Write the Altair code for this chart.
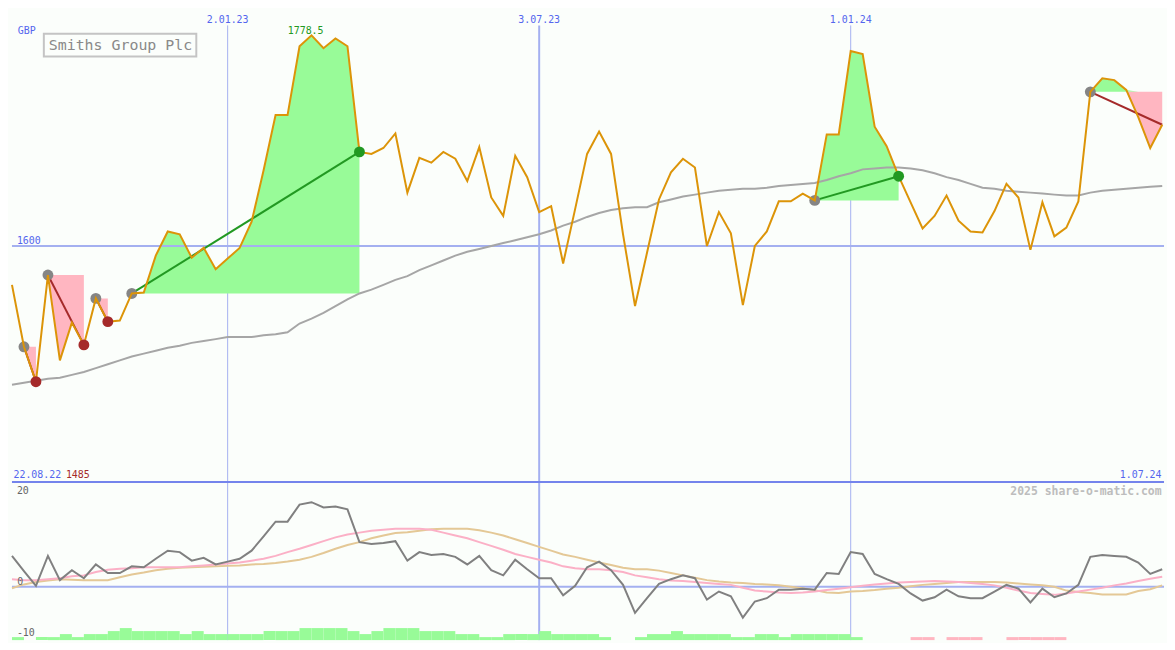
import altair as alt
import pandas as pd

# ---------------- data (weekly points, first point = 29.08.22) ----------------
START = "2022-08-29"

price = [1567.1, 1514.6, 1485.0, 1575.4, 1503.1, 1535.1, 1516.2, 1555.6, 1535.9, 1536.8,
         1559.8, 1560.6, 1591.8, 1612.3, 1609.9, 1590.1, 1598.4, 1580.3, 1589.3, 1598.4,
         1620.5, 1664.1, 1710.9, 1710.9, 1769.2, 1778.5, 1767.6, 1775.8, 1769.2, 1679.7,
         1678.0, 1683.0, 1695.3, 1645.2, 1674.7, 1670.6, 1679.7, 1673.9, 1655.0, 1683.8,
         1641.1, 1625.5, 1676.4, 1658.3, 1628.7, 1633.7, 1585.2, 1631.2, 1678.0, 1696.9,
         1678.0, 1609.9, 1549.1, 1594.2, 1639.4, 1662.4, 1673.9, 1666.5, 1600.0, 1628.7,
         1610.7, 1549.9, 1600.0, 1612.3, 1637.8, 1637.8, 1644.4, 1638.6, 1694.5, 1694.5,
         1765.1, 1762.6, 1701.0, 1684.6, 1659.1, 1637.0, 1614.8, 1625.5, 1642.7, 1621.4,
         1612.3, 1611.5, 1629.6, 1652.6, 1641.1, 1596.7, 1637.0, 1608.2, 1615.6, 1637.8,
         1730.6, 1742.1, 1740.5, 1732.2, 1709.2, 1683.0, 1702.7]

ma = [1482.5, 1484.2, 1485.8, 1487.5, 1488.3, 1490.8, 1493.2, 1496.5, 1499.8, 1503.1,
      1506.4, 1508.8, 1511.3, 1513.8, 1515.4, 1517.9, 1519.5, 1521.1, 1522.8, 1522.8,
      1522.8, 1524.4, 1525.3, 1526.9, 1534.3, 1538.4, 1543.3, 1549.1, 1554.8, 1559.8,
      1563.0, 1567.1, 1571.3, 1574.5, 1579.5, 1583.6, 1587.7, 1591.8, 1595.1, 1597.5,
      1600.0, 1602.5, 1604.9, 1607.4, 1609.9, 1613.1, 1617.2, 1620.5, 1624.6, 1627.9,
      1630.4, 1632.0, 1632.9, 1632.9, 1637.0, 1639.4, 1641.9, 1643.5, 1645.2, 1646.8,
      1647.6, 1648.5, 1648.5, 1649.3, 1650.9, 1651.7, 1652.6, 1653.4, 1655.9, 1659.1,
      1661.6, 1664.9, 1665.7, 1666.5, 1666.5, 1665.7, 1664.1, 1661.6, 1658.3, 1655.9,
      1652.6, 1649.3, 1648.5, 1646.8, 1646.0, 1645.2, 1644.4, 1643.5, 1642.7, 1642.7,
      1645.2, 1646.8, 1647.6, 1648.5, 1649.3, 1650.1, 1650.9]

osc = [6.5, 3.3, 0.2, 6.5, 1.4, 3.5, 1.8, 4.7, 2.9, 2.9,
       4.3, 4.1, 5.9, 7.6, 7.3, 5.5, 6.1, 4.7, 5.3, 5.9,
       7.6, 10.6, 13.7, 13.7, 17.3, 17.8, 16.7, 16.9, 16.3, 9.4,
       9.0, 9.2, 9.6, 5.5, 7.3, 6.7, 6.9, 6.3, 4.7, 6.5,
       3.5, 2.4, 5.7, 3.7, 1.8, 1.8, -1.8, 0.2, 4.1, 5.3,
       3.5, 0.4, -5.5, -2.4, 0.6, 1.6, 2.4, 1.8, -2.7, -1.0,
       -2.0, -6.5, -3.1, -2.4, -0.6, -0.6, -0.4, -0.6, 2.9, 2.7,
       7.3, 6.9, 2.7, 1.6, 0.6, -1.4, -2.9, -2.2, -0.6, -2.0,
       -2.4, -2.4, -1.0, 0.4, -0.4, -3.3, -0.4, -2.2, -1.4, 0.4,
       6.3, 6.7, 6.5, 6.3, 5.1, 2.7, 3.7]

osc_fast = [1.6, 1.4, 1.4, 1.6, 1.8, 2.2, 2.4, 3.1, 3.6, 3.8,
            3.9, 4.1, 4.1, 4.1, 4.1, 4.3, 4.5, 4.7, 4.9, 5.1,
            5.5, 5.9, 6.5, 7.3, 8.0, 8.8, 9.6, 10.4, 11.0, 11.4,
            11.8, 12.0, 12.2, 12.2, 12.2, 12.0, 11.4, 10.8, 10.2, 9.4,
            8.6, 7.8, 6.9, 6.3, 5.7, 5.1, 4.3, 3.9, 3.7, 3.7,
            3.5, 3.1, 2.4, 2.0, 1.6, 1.3, 1.2, 1.0, 0.8, 0.6,
            0.4, -0.2, -0.8, -1.0, -1.2, -1.3, -1.2, -1.0, -0.7, -0.4,
            -0.1, 0.2, 0.5, 0.7, 0.9, 1.0, 1.1, 1.2, 1.1, 1.0,
            0.8, 0.6, 0.3, -0.2, -0.8, -1.3, -1.5, -1.7, -1.4, -1.0,
            -0.6, -0.2, 0.3, 0.7, 1.2, 1.7, 2.1]

osc_slow = [-0.3, 0.5, 1.0, 1.3, 1.6, 1.5, 1.4, 1.4, 1.4, 2.0,
            2.6, 3.0, 3.5, 3.8, 4.0, 4.1, 4.2, 4.3, 4.4, 4.5,
            4.7, 4.8, 5.0, 5.3, 5.7, 6.3, 7.1, 8.0, 8.8, 9.4,
            10.2, 10.8, 11.3, 11.5, 11.8, 12.1, 12.2, 12.2, 12.2, 11.9,
            11.4, 10.8, 10.0, 9.2, 8.4, 7.6, 6.8, 6.3, 5.7, 5.1,
            4.6, 4.0, 3.7, 3.7, 3.4, 2.9, 2.4, 1.9, 1.4, 1.1,
            0.9, 0.8, 0.6, 0.5, 0.3, 0.0, -0.3, -0.7, -1.2, -1.3,
            -1.0, -0.9, -0.7, -0.4, -0.2, 0.1, 0.4, 0.6, 0.8, 1.0,
            1.0, 1.0, 1.0, 0.9, 0.7, 0.5, 0.3, 0.0, -0.8, -1.1,
            -1.3, -1.6, -1.6, -1.6, -0.9, -0.5, 0.3]

# weekly signal strength bars (positive = green, negative = pink)
strength = [1, 0, 1, 1, 2, 1, 2, 2, 3, 4, 3, 3, 3, 3, 2, 3, 2, 2, 2, 2,
            2, 3, 3, 3, 4, 4, 4, 4, 3, 2, 3, 4, 4, 4, 3, 3, 3, 2, 2, 1,
            1, 2, 2, 2, 3, 2, 2, 2, 2, 1, 0, 0, 1, 2, 2, 3, 2, 2, 2, 2,
            1, 1, 2, 2, 1, 2, 2, 2, 2, 2, 1, 0, 0, 0, 0, -1, -1, 0, -1, -1,
            -1, 0, 0, -1, -1, -1, -1, -1, 0, 0, 0, 0, 0, 0, 0, 0]

# trade signals: (start point, end point, kind, still open)
seg_start = [1, 3, 7, 10, 67, 90]
seg_end = [2, 6, 8, 29, 74, 96]
seg_kind = ["sell", "sell", "sell", "buy", "buy", "sell"]
seg_open = [False, False, False, False, False, True]

tick_dates = ["2023-01-02", "2023-07-03", "2024-01-01"]
tick_labels = ["2.01.23", "3.07.23", "1.01.24"]
tick_kind = ["thin", "thick", "thin"]
price_levels = [1600]
price_level_labels = ["1600"]
osc_levels = [0]
osc_labels_top, osc_labels_zero, osc_labels_bottom = "20", "0", "-10"
first_label, last_label = "22.08.22", "1.07.24"
currency = "GBP"
title = "Smiths Group Plc"
credit = "2025 share-o-matic.com"

# ---------------- layout / style ----------------
W, H1, H2 = 1159, 475, 159
SX = W / 1175.0
SY = (H1 + H2) / 650.0
FONT = "DejaVu Sans Mono"
BG = "#fbfefb"
BLUE_TXT = "#5466ee"
GRID = "#a4b0f0"
SEP = "#7484ec"
ORANGE = "#dc9408"
GREEN_FILL = "#98fb98"
PINK_FILL = "#ffb6c1"
BUY = "#229922"
SELL = "#a52a2a"

XS = alt.Scale(domain=[0, 96.15], nice=False, zero=False)
YT = alt.Scale(domain=[1400, 1800], nice=False, zero=False)
YB = alt.Scale(domain=[-11.22, 22.04], nice=False, zero=False)
YH = alt.Scale(domain=[0, 52.6], nice=False, zero=False)


def X(f):
    return alt.X(f, type="quantitative", scale=XS, axis=None)


def week_of(d):
    return (pd.Timestamp(d) - pd.Timestamp(START)).days / 7.0


n = len(price)
df = pd.DataFrame({"week": list(range(n)), "price": price, "ma": ma,
                   "osc": osc, "fast": osc_fast, "slow": osc_slow})

area_rows, trend_rows, start_rows, end_rows = [], [], [], []
for sid, (s, e, k, op) in enumerate(zip(seg_start, seg_end, seg_kind, seg_open)):
    b = price[s]
    for i in range(s, e + 1):
        area_rows.append({"seg": sid, "week": i, "base": b,
                          "upper": max(price[i], b), "lower": min(price[i], b)})
    trend_rows += [{"seg": sid, "kind": k, "week": s, "price": price[s]},
                   {"seg": sid, "kind": k, "week": e, "price": price[e]}]
    start_rows.append({"week": s, "price": price[s]})
    if not op:
        end_rows.append({"week": e, "price": price[e], "kind": k})
area_df = pd.DataFrame(area_rows)
trend_df = pd.DataFrame(trend_rows)
start_df = pd.DataFrame(start_rows)
end_df = pd.DataFrame(end_rows)

ticks_df = pd.DataFrame({"week": [week_of(d) for d in tick_dates],
                         "label": tick_labels, "kind": tick_kind})
bar_df = pd.DataFrame({"x0": list(range(len(strength))),
                       "x1": [k + 1 for k in range(len(strength))],
                       "h": [abs(v) for v in strength],
                       "sgn": [v for v in strength]})
bar_up = bar_df[bar_df["sgn"] > 0]
bar_dn = bar_df[bar_df["sgn"] < 0]

imax = price.index(max(price))
imin = price.index(min(price))
peak_df = pd.DataFrame({"week": [imax], "price": [max(price)], "label": [f"{max(price):g}"]})
one = pd.DataFrame({"a": [0]})

sw = alt.StrokeWidth("kind:N", scale=alt.Scale(domain=["thin", "thick"], range=[1, 2]), legend=None)
kind_color = alt.Color("kind:N", scale=alt.Scale(domain=["buy", "sell"], range=[BUY, SELL]), legend=None)

# ---------------- top panel ----------------
vrules_top = alt.Chart(ticks_df).mark_rule(color=GRID).encode(
    x=X("week"), y=alt.value(16 * SY), y2=alt.value(H1), strokeWidth=sw)

green_area = alt.Chart(area_df).mark_area(color=GREEN_FILL, opacity=1).encode(
    x=X("week"), y=alt.Y("upper:Q", scale=YT, axis=None), y2="base:Q", detail="seg:N")
pink_area = alt.Chart(area_df).mark_area(color=PINK_FILL, opacity=1).encode(
    x=X("week"), y=alt.Y("lower:Q", scale=YT, axis=None), y2="base:Q", detail="seg:N")

hrule_top = alt.Chart(pd.DataFrame({"p": price_levels, "label": price_level_labels})).mark_rule(
    color=GRID, strokeWidth=2).encode(y=alt.Y("p:Q", scale=YT, axis=None))
hrule_lbl = alt.Chart(pd.DataFrame({"p": price_levels, "label": price_level_labels})).mark_text(
    font=FONT, fontSize=10, color=BLUE_TXT, align="left", baseline="alphabetic", dy=-1.5).encode(
    x=alt.value(5 * SX), y=alt.Y("p:Q", scale=YT, axis=None), text="label:N")

ma_line = alt.Chart(df).mark_line(color="#a6a6a6", strokeWidth=2).encode(
    x=X("week"), y=alt.Y("ma:Q", scale=YT, axis=None))

trend = alt.Chart(trend_df).mark_line(strokeWidth=2).encode(
    x=X("week"), y=alt.Y("price:Q", scale=YT, axis=None), detail="seg:N", color=kind_color)

start_dots = alt.Chart(start_df).mark_circle(size=120, color="#858585", opacity=1).encode(
    x=X("week"), y=alt.Y("price:Q", scale=YT, axis=None))

price_line = alt.Chart(df).mark_line(color=ORANGE, strokeWidth=2).encode(
    x=X("week"), y=alt.Y("price:Q", scale=YT, axis=None))

end_dots = alt.Chart(end_df).mark_circle(size=120, opacity=1).encode(
    x=X("week"), y=alt.Y("price:Q", scale=YT, axis=None), color=kind_color)

date_lbl = alt.Chart(ticks_df).mark_text(font=FONT, fontSize=10, color=BLUE_TXT,
                                         align="center", baseline="alphabetic").encode(
    x=X("week"), y=alt.value(13.3 * SY), text="label:N")

peak_lbl = alt.Chart(peak_df).mark_text(font=FONT, fontSize=10, color=BUY, align="center",
                                        baseline="alphabetic", dx=-6 * SX, dy=-1.5).encode(
    x=X("week"), y=alt.Y("price:Q", scale=YT, axis=None), text="label:N")

cur_lbl = alt.Chart(one).mark_text(font=FONT, fontSize=10, color=BLUE_TXT, align="left",
                                   baseline="alphabetic", text=currency).encode(
    x=alt.value(6 * SX), y=alt.value(25 * SY))

title_box = alt.Chart(one).mark_rect(fill=BG, stroke="#c4c4c4", strokeWidth=2).encode(
    x=alt.value(32.5 * SX), x2=alt.value(188 * SX), y=alt.value(24.5 * SY), y2=alt.value(48 * SY))
title_txt = alt.Chart(one).mark_text(font=FONT, fontSize=15, color="#898989", align="left",
                                     baseline="alphabetic", text=title).encode(
    x=alt.value(37.5 * SX), y=alt.value(41.5 * SY))

first_lbl = alt.Chart(one).mark_text(font=FONT, fontSize=10, color=BLUE_TXT, align="left",
                                     baseline="alphabetic", text=first_label).encode(
    x=alt.value(1.5 * SX), y=alt.value(483.3 * SY))
min_lbl = alt.Chart(one).mark_text(font=FONT, fontSize=10, color=SELL, align="left",
                                   baseline="alphabetic", text=f"{price[imin]:g}").encode(
    x=alt.value(55 * SX), y=alt.value(483.3 * SY))
last_lbl = alt.Chart(one).mark_text(font=FONT, fontSize=10, color=BLUE_TXT, align="right",
                                    baseline="alphabetic", text=last_label).encode(
    x=alt.value(1172.5 * SX), y=alt.value(483.3 * SY))

top = alt.layer(vrules_top, green_area, pink_area, hrule_top, hrule_lbl, ma_line, trend,
                start_dots, price_line, end_dots, date_lbl, peak_lbl, cur_lbl, title_box,
                title_txt, first_lbl, min_lbl, last_lbl).properties(width=W, height=H1)

# ---------------- bottom panel ----------------
vrules_bot = alt.Chart(ticks_df).mark_rule(color=GRID).encode(x=X("week"), strokeWidth=sw)
zero_rule = alt.Chart(pd.DataFrame({"v": osc_levels})).mark_rule(color=GRID, strokeWidth=2).encode(
    y=alt.Y("v:Q", scale=YB, axis=None))
bars_up = alt.Chart(bar_up).mark_rect(color=GREEN_FILL).encode(
    x=X("x0"), x2="x1:Q", y=alt.Y("h:Q", scale=YH, axis=None), y2=alt.datum(0))
bars_dn = alt.Chart(bar_dn).mark_rect(color=PINK_FILL).encode(
    x=X("x0"), x2="x1:Q", y=alt.Y("h:Q", scale=YH, axis=None), y2=alt.datum(0))
slow_line = alt.Chart(df).mark_line(color="#e4c896", strokeWidth=2).encode(
    x=X("week"), y=alt.Y("slow:Q", scale=YB, axis=None))
fast_line = alt.Chart(df).mark_line(color="#fbb0c6", strokeWidth=2).encode(
    x=X("week"), y=alt.Y("fast:Q", scale=YB, axis=None))
osc_line = alt.Chart(df).mark_line(color="#808080", strokeWidth=2).encode(
    x=X("week"), y=alt.Y("osc:Q", scale=YB, axis=None))
sep = alt.Chart(one).mark_rule(color=SEP, strokeWidth=2).encode(
    x=alt.value(0), x2=alt.value(W), y=alt.value(0))

credit_txt = alt.Chart(one).mark_text(font=FONT, fontSize=11.5, fontWeight="bold", color="#bdbdbd",
                                      align="right", baseline="alphabetic", text=credit).encode(
    x=alt.value(1172.5 * SX), y=alt.value(13 * SY))
lbl20 = alt.Chart(one).mark_text(font=FONT, fontSize=10, color="#666666", align="left",
                                 baseline="alphabetic", text=osc_labels_top).encode(
    x=alt.value(5 * SX), y=alt.value(12 * SY))
lbl0 = alt.Chart(pd.DataFrame({"v": osc_levels})).mark_text(
    font=FONT, fontSize=10, color="#666666", align="left", baseline="alphabetic", dy=-2,
    text=osc_labels_zero).encode(x=alt.value(5.5 * SX), y=alt.Y("v:Q", scale=YB, axis=None))
lblm10 = alt.Chart(one).mark_text(font=FONT, fontSize=10, color="#666666", align="left",
                                  baseline="alphabetic", text=osc_labels_bottom).encode(
    x=alt.value(5 * SX), y=alt.value(158.7 * SY))

bottom = alt.layer(vrules_bot, zero_rule, bars_up, bars_dn, slow_line, fast_line, osc_line, sep,
                   credit_txt, lbl20, lbl0, lblm10).resolve_scale(y="independent").properties(
    width=W, height=H2)

chart = alt.vconcat(top, bottom, spacing=0, bounds="flush").properties(
    padding=0, background=BG).configure_view(stroke=None)

chart.save("out.html", embed_options={"renderer": "svg", "actions": False})
